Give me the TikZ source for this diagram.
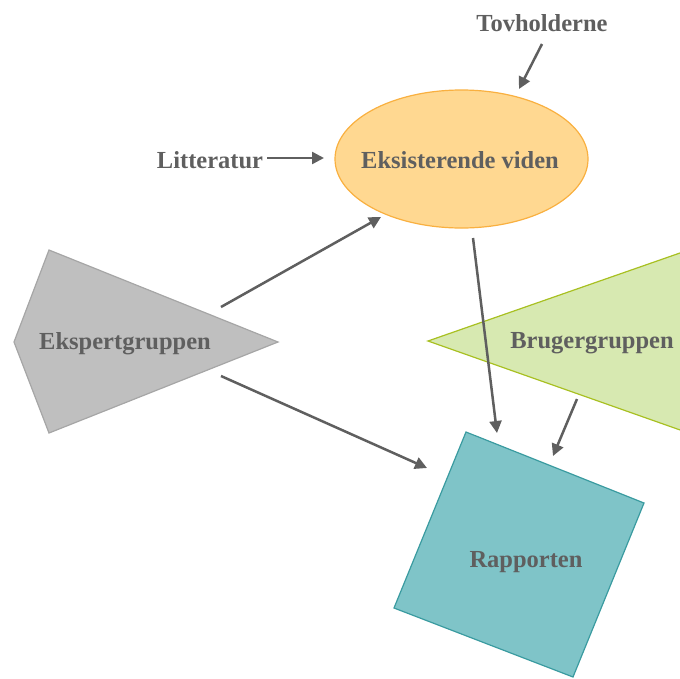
\documentclass[tikz,border=0pt]{standalone}
\usepackage{fontspec}
\setmainfont{Liberation Serif}
\usetikzlibrary{arrows.meta,shapes.geometric}
\definecolor{txt}{HTML}{5F5F5F}
\definecolor{arr}{HTML}{5F5F5F}
\definecolor{ellfill}{HTML}{FFD891}
\definecolor{elldraw}{HTML}{F9B040}
\definecolor{expfill}{HTML}{BFBFBF}
\definecolor{expdraw}{HTML}{A6A6A6}
\definecolor{brfill}{HTML}{D7E9B1}
\definecolor{brdraw}{HTML}{A8C021}
\definecolor{rapfill}{HTML}{7FC4C8}
\definecolor{rapdraw}{HTML}{3A9BA0}
\tikzset{
  lbl/.style={font=\fontsize{24.5}{28}\selectfont\bfseries, text=txt, inner sep=0pt, yshift=-2pt},
  conn/.style={draw=arr, line width=2.5pt, -{Triangle[length=12pt,width=12pt]}},
  shp/.style={line width=1.2pt}
}
\begin{document}
\begin{tikzpicture}[x=1pt,y=-1pt]
\useasboundingbox (0,0) rectangle (680,678);
% Shapes
\node[ellipse, shp, fill=ellfill, draw=elldraw, minimum width=253pt, minimum height=138pt, inner sep=0pt] (viden) at (461.5,159) {};
\draw[shp, fill=expfill, draw=expdraw] (49,250) -- (278,342) -- (49,433) -- (14,342) -- cycle;
\begin{scope}
  \clip (0,0) rectangle (680,678);
  \draw[shp, fill=brfill, draw=brdraw] (428,341) -- (700,246) -- (700,437) -- cycle;
\end{scope}
\draw[shp, fill=rapfill, draw=rapdraw] (466,432) -- (644,503) -- (573,677) -- (394,608) -- cycle;
% Labels
\node[lbl] (tov) at (542,21) {Tovholderne};
\node[lbl] (lit) at (210,158) {Litteratur};
\node[lbl] (vidtxt) at (460,158) {Eksisterende viden};
\node[lbl] (eksp) at (125,342) {Ekspertgruppen};
\node[lbl] (brug) at (592,341) {Brugergruppen};
\node[lbl] (rap) at (526,560) {Rapporten};
% Arrow end points
\coordinate (a1s) at (542,44);   \coordinate (a1e) at (519,89);
\coordinate (a2s) at (267,158);  \coordinate (a2e) at (324,158);
\coordinate (a3s) at (221,307);  \coordinate (a3e) at (381,217);
\coordinate (a4s) at (221,376);  \coordinate (a4e) at (427,468);
\coordinate (a5s) at (473,238);  \coordinate (a5e) at (497,433);
\coordinate (a6s) at (577,399);  \coordinate (a6e) at (553,456);
% Connectors
\draw[conn] (a1s) -- (a1e);
\draw[conn] (a2s) -- (a2e);
\draw[conn] (a3s) -- (a3e);
\draw[conn] (a4s) -- (a4e);
\draw[conn] (a5s) -- (a5e);
\draw[conn] (a6s) -- (a6e);
\end{tikzpicture}
\end{document}
